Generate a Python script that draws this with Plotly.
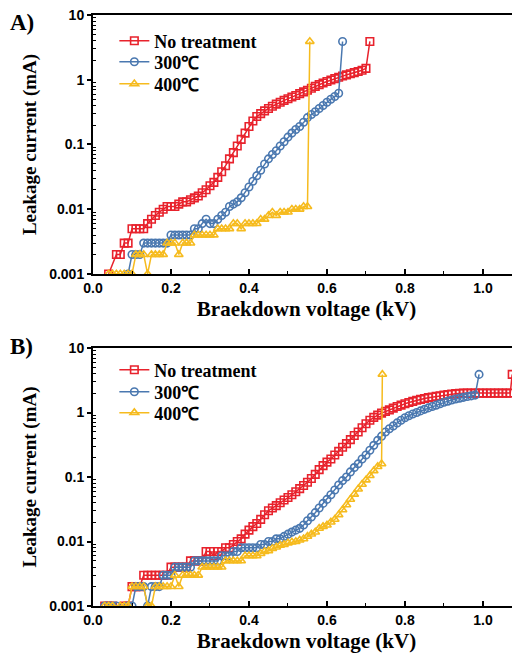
import plotly.graph_objects as go

# ---------------- Panel A data ----------------
a_none_x = [0.04, 0.06, 0.07, 0.08, 0.09, 0.10, 0.11, 0.12, 0.13, 0.14, 0.15, 0.16, 0.17, 0.18, 0.19,
            0.20, 0.21, 0.22, 0.23, 0.24, 0.25, 0.26, 0.27, 0.28, 0.29, 0.30, 0.31, 0.32, 0.33, 0.34,
            0.35, 0.36, 0.37, 0.38, 0.39, 0.40, 0.41, 0.42, 0.43, 0.44, 0.45, 0.46, 0.47, 0.48, 0.49,
            0.50, 0.51, 0.52, 0.53, 0.54, 0.55, 0.56, 0.57, 0.58, 0.59, 0.60, 0.61, 0.62, 0.63, 0.64,
            0.65, 0.66, 0.67, 0.68, 0.69, 0.70, 0.71]
a_none_y = [0.001, 0.002, 0.002, 0.003, 0.003, 0.005, 0.005, 0.005, 0.005, 0.006, 0.007, 0.008, 0.009, 0.010, 0.011,
            0.011, 0.011, 0.012, 0.013, 0.013, 0.014, 0.015, 0.016, 0.018, 0.020, 0.023, 0.026, 0.031, 0.038, 0.047,
            0.060, 0.075, 0.095, 0.12, 0.15, 0.19, 0.23, 0.27, 0.30, 0.33, 0.36, 0.39, 0.42, 0.45, 0.48,
            0.51, 0.54, 0.57, 0.61, 0.65, 0.69, 0.74, 0.79, 0.84, 0.89, 0.94, 0.99, 1.04, 1.09, 1.14,
            1.19, 1.24, 1.29, 1.34, 1.40, 1.50, 3.9]

a_300_x = [0.09, 0.10, 0.11, 0.12, 0.13, 0.14, 0.15, 0.16, 0.17, 0.18, 0.19, 0.20, 0.21, 0.22, 0.23,
           0.24, 0.25, 0.26, 0.27, 0.28, 0.29, 0.30, 0.31, 0.32, 0.33, 0.34, 0.35, 0.36, 0.37, 0.38,
           0.39, 0.40, 0.41, 0.42, 0.43, 0.44, 0.45, 0.46, 0.47, 0.48, 0.49, 0.50, 0.51, 0.52, 0.53,
           0.54, 0.55, 0.56, 0.57, 0.58, 0.59, 0.60, 0.61, 0.62, 0.63, 0.64]
a_300_y = [0.001, 0.002, 0.002, 0.002, 0.003, 0.003, 0.003, 0.003, 0.003, 0.003, 0.003, 0.004, 0.004, 0.004, 0.004,
           0.004, 0.004, 0.005, 0.005, 0.006, 0.007, 0.006, 0.006, 0.007, 0.008, 0.009, 0.011, 0.012, 0.013, 0.015,
           0.018, 0.022, 0.027, 0.033, 0.040, 0.050, 0.060, 0.070, 0.080, 0.095, 0.11, 0.13, 0.15, 0.17, 0.19,
           0.22, 0.26, 0.29, 0.32, 0.36, 0.40, 0.45, 0.50, 0.55, 0.62, 3.9]

a_400_x = [0.04, 0.05, 0.06, 0.07, 0.08, 0.09, 0.10, 0.11, 0.12, 0.13, 0.14, 0.15, 0.16, 0.17, 0.18,
           0.19, 0.20, 0.21, 0.22, 0.23, 0.24, 0.25, 0.26, 0.27, 0.28, 0.29, 0.30, 0.31, 0.32, 0.33,
           0.34, 0.35, 0.36, 0.37, 0.38, 0.39, 0.40, 0.41, 0.42, 0.43, 0.44, 0.45, 0.46, 0.47, 0.48,
           0.49, 0.50, 0.51, 0.52, 0.53, 0.54, 0.55, 0.556]
a_400_y = [0.001, 0.001, 0.001, 0.001, 0.001, 0.001, 0.001, 0.002, 0.002, 0.002, 0.001, 0.002, 0.002, 0.002, 0.002,
           0.003, 0.003, 0.003, 0.002, 0.003, 0.003, 0.003, 0.004, 0.004, 0.004, 0.004, 0.004, 0.004, 0.005, 0.005,
           0.005, 0.005, 0.006, 0.006, 0.005, 0.006, 0.006, 0.006, 0.006, 0.007, 0.007, 0.008, 0.009, 0.008, 0.009,
           0.009, 0.009, 0.010, 0.010, 0.010, 0.011, 0.011, 3.9]

# ---------------- Panel B data ----------------
b_none_x = [0.03, 0.04, 0.05, 0.08, 0.09, 0.10, 0.11, 0.12, 0.13, 0.14, 0.15, 0.16, 0.17, 0.18, 0.19,
            0.20, 0.21, 0.22, 0.23, 0.24, 0.25, 0.26, 0.27, 0.28, 0.29, 0.30, 0.31, 0.32, 0.33, 0.34,
            0.35, 0.36, 0.37, 0.38, 0.39, 0.40, 0.41, 0.42, 0.43, 0.44, 0.45, 0.46, 0.47, 0.48, 0.49,
            0.50, 0.51, 0.52, 0.53, 0.54, 0.55, 0.56, 0.57, 0.58, 0.59, 0.60, 0.61, 0.62, 0.63, 0.64,
            0.65, 0.66, 0.67, 0.68, 0.69, 0.70, 0.71, 0.72, 0.73, 0.74, 0.75, 0.76, 0.77, 0.78, 0.79,
            0.80, 0.81, 0.82, 0.83, 0.84, 0.85, 0.86, 0.87, 0.88, 0.89, 0.90, 0.91, 0.92, 0.93, 0.94,
            0.95, 0.96, 0.97, 0.98, 0.99, 1.00, 1.01, 1.02, 1.03, 1.04, 1.05, 1.06, 1.07, 1.075]
b_none_y = [0.001, 0.001, 0.001, 0.001, 0.001, 0.002, 0.002, 0.002, 0.003, 0.003, 0.003, 0.003, 0.003, 0.003, 0.003,
            0.004, 0.004, 0.004, 0.004, 0.004, 0.005, 0.005, 0.005, 0.005, 0.007, 0.007, 0.006, 0.007, 0.007, 0.008,
            0.008, 0.009, 0.010, 0.011, 0.013, 0.015, 0.017, 0.019, 0.022, 0.026, 0.030, 0.033, 0.036, 0.040, 0.044,
            0.048, 0.053, 0.059, 0.066, 0.074, 0.083, 0.095, 0.11, 0.13, 0.15, 0.17, 0.19, 0.22, 0.25, 0.29,
            0.33, 0.38, 0.44, 0.50, 0.58, 0.67, 0.76, 0.84, 0.91, 0.98, 1.04, 1.10, 1.17, 1.24, 1.30,
            1.37, 1.43, 1.49, 1.55, 1.60, 1.65, 1.70, 1.74, 1.78, 1.82, 1.86, 1.90, 1.93, 1.96, 1.98,
            2.0, 2.0, 2.0, 2.0, 2.0, 2.0, 2.0, 2.0, 2.0, 2.0, 2.0, 2.0, 2.0, 3.9]

b_300_x = [0.03, 0.04, 0.05, 0.06, 0.09, 0.10, 0.11, 0.12, 0.13, 0.14, 0.15, 0.16, 0.17, 0.18, 0.19,
           0.20, 0.21, 0.22, 0.23, 0.24, 0.25, 0.26, 0.27, 0.28, 0.29, 0.30, 0.31, 0.32, 0.33, 0.34,
           0.35, 0.36, 0.37, 0.38, 0.39, 0.40, 0.41, 0.42, 0.43, 0.44, 0.45, 0.46, 0.47, 0.48, 0.49,
           0.50, 0.51, 0.52, 0.53, 0.54, 0.55, 0.56, 0.57, 0.58, 0.59, 0.60, 0.61, 0.62, 0.63, 0.64,
           0.65, 0.66, 0.67, 0.68, 0.69, 0.70, 0.71, 0.72, 0.73, 0.74, 0.75, 0.76, 0.77, 0.78, 0.79,
           0.80, 0.81, 0.82, 0.83, 0.84, 0.85, 0.86, 0.87, 0.88, 0.89, 0.90, 0.91, 0.92, 0.93, 0.94,
           0.95, 0.96, 0.97, 0.98, 0.99]
b_300_y = [0.001, 0.001, 0.001, 0.001, 0.001, 0.001, 0.002, 0.002, 0.002, 0.001, 0.002, 0.002, 0.002, 0.003, 0.003,
           0.003, 0.004, 0.004, 0.004, 0.004, 0.004, 0.005, 0.005, 0.005, 0.005, 0.005, 0.005, 0.005, 0.006, 0.006,
           0.006, 0.007, 0.007, 0.008, 0.008, 0.008, 0.008, 0.008, 0.009, 0.009, 0.010, 0.010, 0.011, 0.011, 0.012,
           0.013, 0.014, 0.015, 0.016, 0.018, 0.021, 0.024, 0.028, 0.033, 0.039, 0.045, 0.053, 0.063, 0.075, 0.088,
           0.10, 0.12, 0.14, 0.16, 0.19, 0.22, 0.26, 0.31, 0.37, 0.43, 0.50, 0.56, 0.62, 0.69, 0.76,
           0.83, 0.89, 0.95, 1.00, 1.06, 1.12, 1.18, 1.24, 1.30, 1.37, 1.44, 1.50, 1.56, 1.62, 1.67,
           1.72, 1.77, 1.81, 1.86, 3.9]

b_400_x = [0.03, 0.04, 0.05, 0.07, 0.08, 0.09, 0.10, 0.11, 0.12, 0.13, 0.14, 0.15, 0.16, 0.17, 0.18,
           0.19, 0.20, 0.21, 0.22, 0.23, 0.24, 0.25, 0.26, 0.27, 0.28, 0.29, 0.30, 0.31, 0.32, 0.33,
           0.34, 0.35, 0.36, 0.37, 0.38, 0.39, 0.40, 0.41, 0.42, 0.43, 0.44, 0.45, 0.46, 0.47, 0.48,
           0.49, 0.50, 0.51, 0.52, 0.53, 0.54, 0.55, 0.56, 0.57, 0.58, 0.59, 0.60, 0.61, 0.62, 0.63,
           0.64, 0.65, 0.66, 0.67, 0.68, 0.69, 0.70, 0.71, 0.72, 0.73, 0.74, 0.742]
b_400_y = [0.001, 0.001, 0.001, 0.001, 0.001, 0.001, 0.002, 0.002, 0.002, 0.002, 0.001, 0.001, 0.002, 0.002, 0.002,
           0.002, 0.002, 0.003, 0.002, 0.003, 0.003, 0.003, 0.003, 0.003, 0.004, 0.004, 0.004, 0.004, 0.004, 0.004,
           0.005, 0.005, 0.005, 0.005, 0.005, 0.006, 0.006, 0.006, 0.006, 0.0065, 0.007, 0.0072, 0.0078, 0.0082, 0.0087,
           0.009, 0.0095, 0.0098, 0.010, 0.0105, 0.011, 0.012, 0.013, 0.014, 0.016, 0.017, 0.018, 0.020, 0.022, 0.026,
           0.031, 0.037, 0.045, 0.054, 0.065, 0.077, 0.090, 0.105, 0.125, 0.145, 0.16, 3.9]

series_names = ["No treatment", "300℃", "400℃"]
series_colors = ["#e8222c", "#4a78b0", "#f6bb1e"]
series_symbols = ["square-open", "circle-open", "triangle-up-open"]

y_tickvals = [0.001, 0.01, 0.1, 1, 10]
y_ticktext = ["0.001", "0.01", "0.1", "1", "10"]
y_minor_digits = [2, 3, 4, 5, 6, 7, 8, 9]
x_tickvals = [0.0, 0.2, 0.4, 0.6, 0.8, 1.0]
x_ticktext = ["0.0", "0.2", "0.4", "0.6", "0.8", "1.0"]
x_minorvals = [0.1, 0.3, 0.5, 0.7, 0.9]

panel_labels = ["A)", "B)"]
x_title = "Braekdown voltage (kV)"
y_title = "Leakage current (mA)"

SERIF = "Liberation Serif, Times New Roman, serif"
SANS = "Liberation Sans, Arial, sans-serif"

# legend item centres (paper fraction) for each panel
legend_y_a = [0.956, 0.9205, 0.8832]
legend_y_b = [0.3993, 0.3621, 0.3266]

fig = go.Figure()

panels = [
    ([a_none_x, a_300_x, a_400_x], [a_none_y, a_300_y, a_400_y], "x", "y", ["legend", "legend2", "legend3"]),
    ([b_none_x, b_300_x, b_400_x], [b_none_y, b_300_y, b_400_y], "x2", "y2", ["legend4", "legend5", "legend6"]),
]
for xs, ys, xa, ya, lgs in panels:
    for i in range(3):
        fig.add_trace(go.Scatter(
            x=xs[i], y=ys[i], mode="lines+markers", name=series_names[i],
            xaxis=xa, yaxis=ya, legend=lgs[i],
            line=dict(color=series_colors[i], width=1.5),
            marker=dict(symbol=series_symbols[i], size=7.5, color=series_colors[i],
                        line=dict(width=1.6, color=series_colors[i])),
        ))

minor_y = [d * 10.0 ** e for e in range(-3, 1) for d in y_minor_digits]

def xaxis_style():
    return dict(range=[0, 1.095], tickvals=x_tickvals, ticktext=x_ticktext,
                ticks="inside", ticklen=5, tickwidth=1.5, tickcolor="black",
                showline=True, linecolor="black", linewidth=2, mirror=True,
                showgrid=False, zeroline=False, automargin=False,
                ticklabeloverflow="allow",
                minor=dict(tickmode="array", tickvals=x_minorvals, ticks="inside",
                           ticklen=3, tickwidth=1.2, tickcolor="black", showgrid=False),
                tickfont=dict(family=SANS, size=14, color="black", weight="bold"),
                title=dict(text=x_title, font=dict(family=SERIF, size=21, color="black", weight="bold"),
                           standoff=7))

def yaxis_style():
    return dict(type="log", range=[-3, 1], tickvals=y_tickvals, ticktext=y_ticktext,
                ticks="outside", ticklen=4, tickwidth=1.5, tickcolor="black",
                showline=True, linecolor="black", linewidth=2,
                showgrid=False, zeroline=False, automargin=False,
                ticklabeloverflow="allow",
                minor=dict(tickmode="array", tickvals=minor_y, ticks="inside",
                           ticklen=3, tickwidth=1, tickcolor="black", showgrid=False),
                tickfont=dict(family=SANS, size=14, color="black", weight="bold"),
                title=dict(text=y_title, font=dict(family=SERIF, size=19, color="black", weight="bold"),
                           standoff=7))

xa1 = xaxis_style(); xa1.update(anchor="y", domain=[0, 1])
xa2 = xaxis_style(); xa2.update(anchor="y2", domain=[0, 1])
ya1 = yaxis_style(); ya1.update(anchor="x", domain=[0.5618, 1.0])
ya2 = yaxis_style(); ya2.update(anchor="x2", domain=[0.0, 0.4365])

def legend_style(yc):
    return dict(font=dict(family=SERIF, size=18, color="black", weight="bold"),
                bgcolor="rgba(0,0,0,0)", borderwidth=0, itemwidth=30,
                x=0.05, y=yc, xanchor="left", yanchor="middle")

layout_legends = {}
names = ["legend", "legend2", "legend3", "legend4", "legend5", "legend6"]
for nm, yc in zip(names, legend_y_a + legend_y_b):
    layout_legends[nm] = legend_style(yc)

fig.update_layout(
    width=512, height=652,
    margin=dict(l=85, r=0, t=7, b=54),
    paper_bgcolor="white", plot_bgcolor="white",
    xaxis=xa1, yaxis=ya1, xaxis2=xa2, yaxis2=ya2,
    showlegend=True,
    annotations=[
        dict(text=panel_labels[0], xref="paper", yref="paper", x=-0.2, y=1.011, xanchor="left", yanchor="top",
             showarrow=False, font=dict(family=SERIF, size=23, color="black", weight="bold")),
        dict(text=panel_labels[1], xref="paper", yref="paper", x=-0.2, y=0.463, xanchor="left", yanchor="top",
             showarrow=False, font=dict(family=SERIF, size=23, color="black", weight="bold")),
    ],
    **layout_legends,
)

fig.write_html("out.html")
